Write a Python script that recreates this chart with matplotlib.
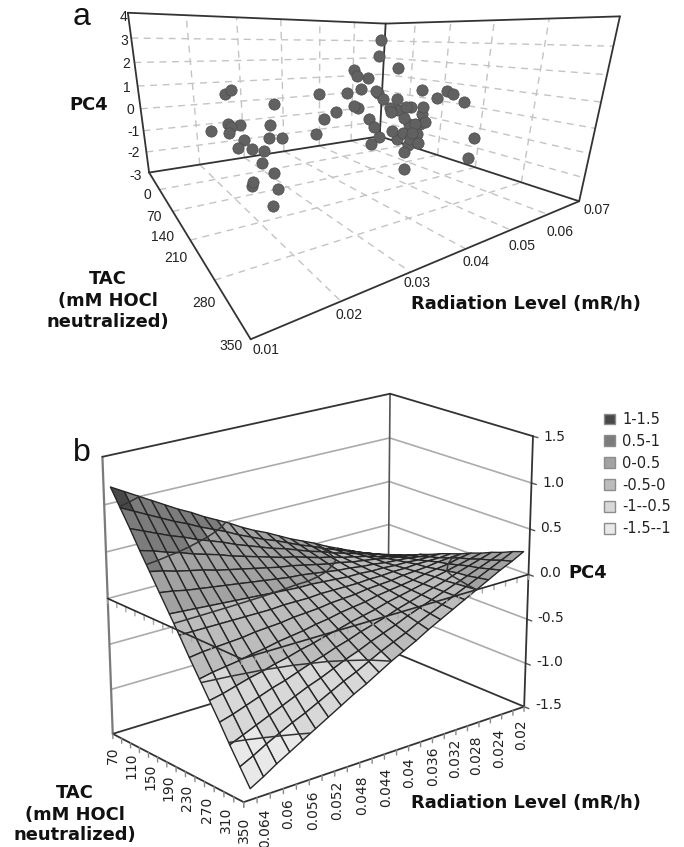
import numpy as np
import matplotlib
matplotlib.use("Agg")
import matplotlib.pyplot as plt
from matplotlib.colors import to_rgba
from matplotlib.patches import Patch

W, H = 684, 847

# panel a: scatter values
pt_tac = [5, 10, 45, 25, 55, 10, 70, 55, 85, 60, 50, 75, 45, 105, 155, 165, 135, 185,
          95, 75, 75, 100, 75, 95, 120, 70, 100, 85, 110, 110, 90, 125, 95, 115, 150, 95,
          135, 110, 140, 120, 115, 135, 105, 135, 160, 110, 140, 125, 155, 135, 135, 160, 130, 150,
          210, 120, 155, 145, 170, 155, 155, 180, 150, 175, 205, 165, 215, 190, 245, 230, 230, 280]
pt_rad = [.0681, .0671, .0689, .0573, .0551, .0637, .0242, .0238, .0418, .0518, .0569, .0582,
          .0628, .0685, .0682, .0684, .0687, .0687, .0579, .0649, .0325, .0494, .0534, .0603,
          .0572, .0664, .0644, .0684, .0686, .0684, .0458, .0393, .0542, .0619, .0486, .0220,
          .0205, .0234, .0270, .0682, .0673, .0623, .0652, .0172, .0188, .0389, .0549, .0603,
          .0586, .0632, .0520, .0254, .0300, .0217, .0682, .0593, .0583, .0487, .0583, .0577,
          .0204, .0211, .0250, .0538, .0680, .0237, .0222, .0518, .0172, .0179, .0217, .0174]
pt_pc4 = [3.05, 2.15, 1.48, 1.43, 1.21, .86, .91, .69, .57, .37, .44, .43,
          .13, .45, .63, .53, .18, .19, .10, -.13, .19, -.08, -.38, -.41,
          -.42, -.80, -.44, -.56, -.43, -.83, -.37, -.36, -.88, -.90, -.77, -.33,
          -.15, -.31, -.20, -1.24, -1.34, -1.10, -1.37, -.23, -.15, -1.14, -1.22, -1.60,
          -1.29, -1.66, -1.46, -.53, -.90, -.59, -1.42, -1.91, -1.63, -1.63, -1.69, -1.89,
          -.82, -.66, -1.14, -1.95, -2.48, -1.41, -1.21, -2.55, -.97, -1.31, -1.59, -1.28]
a_rad_ticks = [.01, .02, .03, .04, .05, .06, .07]
a_tac_ticks = [0, 70, 140, 210, 280, 350]
a_pc4_ticks = [-3, -2, -1, 0, 1, 2, 3, 4]

# panel b: fitted surface
surf_tac = [70, 90, 110, 130, 150, 170, 190, 210, 230, 250, 270, 290, 310, 330, 350]
surf_rad = [.065, .063, .061, .059, .057, .055, .053, .051, .049, .047, .045, .043,
            .041, .039, .037, .035, .033, .031, .029, .027, .025, .023, .021]
surf_pc4 = [
    [1.17, 1.09, 1.01, .93, .85, .77, .70, .62, .55, .48, .40, .33, .27, .20, .13, .07, .01, -.06, -.12, -.18, -.24, -.29, -.35],
    [.99, .92, .85, .78, .71, .65, .58, .52, .46, .39, .33, .27, .22, .16, .10, .05, -.01, -.06, -.11, -.16, -.21, -.26, -.31],
    [.81, .75, .69, .63, .58, .52, .47, .42, .36, .31, .26, .21, .17, .12, .07, .03, -.02, -.06, -.10, -.14, -.18, -.22, -.26],
    [.62, .58, .53, .49, .44, .40, .36, .31, .27, .23, .19, .15, .12, .08, .04, .01, -.03, -.06, -.09, -.13, -.16, -.19, -.22],
    [.44, .41, .37, .34, .31, .27, .24, .21, .18, .15, .12, .10, .07, .04, .01, -.01, -.04, -.06, -.08, -.11, -.13, -.15, -.17],
    [.26, .24, .21, .19, .17, .15, .13, .11, .09, .07, .05, .04, .02, .00, -.02, -.03, -.05, -.06, -.08, -.09, -.10, -.12, -.13],
    [.08, .07, .06, .05, .04, .03, .02, .01, -.00, -.01, -.02, -.02, -.03, -.04, -.05, -.05, -.06, -.06, -.07, -.07, -.08, -.08, -.08],
    [-.10, -.10, -.10, -.10, -.10, -.10, -.10, -.10, -.09, -.09, -.09, -.08, -.08, -.08, -.08, -.07, -.07, -.06, -.06, -.05, -.05, -.05, -.04],
    [-.29, -.27, -.26, -.25, -.24, -.22, -.21, -.20, -.18, -.17, -.16, -.14, -.13, -.12, -.10, -.09, -.08, -.06, -.05, -.04, -.02, -.01, .00],
    [-.47, -.44, -.42, -.40, -.37, -.35, -.32, -.30, -.28, -.25, -.23, -.20, -.18, -.16, -.13, -.11, -.09, -.07, -.04, -.02, .00, .03, .05],
    [-.65, -.62, -.58, -.54, -.51, -.47, -.44, -.40, -.37, -.33, -.30, -.26, -.23, -.20, -.16, -.13, -.10, -.07, -.03, .00, .03, .06, .09],
    [-.83, -.79, -.74, -.69, -.64, -.60, -.55, -.50, -.46, -.41, -.37, -.32, -.28, -.24, -.19, -.15, -.11, -.07, -.03, .02, .06, .10, .14],
    [-1.02, -.96, -.90, -.84, -.78, -.72, -.66, -.61, -.55, -.49, -.44, -.38, -.33, -.28, -.22, -.17, -.12, -.07, -.02, .03, .08, .13, .18],
    [-1.20, -1.13, -1.05, -.98, -.91, -.85, -.78, -.71, -.64, -.58, -.51, -.44, -.38, -.32, -.25, -.19, -.13, -.07, -.01, .05, .11, .17, .23],
    [-1.38, -1.30, -1.21, -1.13, -1.05, -.97, -.89, -.81, -.73, -.66, -.58, -.50, -.43, -.36, -.28, -.21, -.14, -.07, .00, .07, .14, .20, .27],
]
b_pc4_ticks = [-1.5, -1.0, -.5, 0.0, .5, 1.0, 1.5]
b_tac_ticks = [70, 110, 150, 190, 230, 270, 310, 350]
b_tac_minor = list(range(70, 351, 20))
b_rad_labels = ["0.064", "0.06", "0.056", "0.052", "0.048", "0.044", "0.04", "0.036", "0.032", "0.028", "0.024", "0.02"]
b_rad_minor = [.066, .064, .062, .06, .058, .056, .054, .052, .05, .048, .046, .044, .042, .04, .038, .036, .034, .032, .03, .028, .026, .024, .022, .02]
band_edges = [-1.5, -1, -.5, 0, .5, 1, 1.5]
band_colors = ["#e9e9e9", "#d8d8d8", "#bcbcbc", "#a2a2a2", "#7c7c7c", "#484848"]
band_names = ["-1.5--1", "-1--0.5", "-0.5-0", "0-0.5", "0.5-1", "1-1.5"]

fig = plt.figure(figsize=(W / 100, H / 100), dpi=100)


def lab(px, py, s, **kw):
    kw.setdefault("ha", "center")
    kw.setdefault("va", "center")
    fig.text(px / W, 1 - py / H, s, **kw)


def make_axes(view, lims):
    el, az, ro, lf, la, lb, l, t, sx, sy = view
    ax = fig.add_axes([l / W, 1 - (t + sy) / H, sx / W, sy / H], projection="3d")
    ax.apply_aspect = lambda position=None: None  # the figure's boxes are not square
    ax.set_autoscale_on(False)
    ax.set_xlim(*lims[0])
    ax.set_ylim(*lims[1])
    ax.set_zlim(*lims[2])
    ax.view_init(elev=el, azim=az, roll=ro)
    ax.set_proj_type("persp", focal_length=np.exp(lf))
    ax.set_box_aspect((np.exp(la), np.exp(lb), 1))
    ax.set_axis_off()
    ax.patch.set_alpha(0)
    ax.computed_zorder = False
    return ax


def seg(ax, p, q, **kw):
    ax.plot([p[0], q[0]], [p[1], q[1]], [p[2], q[2]], clip_on=False, solid_capstyle="round", **kw)


# ---- panel a
ax = make_axes((12.858, -124.868, -1.205, -1.910, .350, .280, 91.890, -74.766, 503.632, 371.034),
               ((.01, .07), (350, 0), (-3, 4)))
r0, r1, t0, t1, z0, z1 = .01, .07, 0, 350, -3, 4
grid = dict(color="#c4c4c4", lw=1.0, ls=(0, (5, 4)), zorder=1)
for r in a_rad_ticks[1:-1]:
    seg(ax, (r, t0, z0), (r, t0, z1), **grid)
    seg(ax, (r, t0, z0), (r, t1, z0), **grid)
for t in a_tac_ticks[1:-1]:
    seg(ax, (r1, t, z0), (r1, t, z1), **grid)
    seg(ax, (r0, t, z0), (r1, t, z0), **grid)
for z in a_pc4_ticks[1:-1]:
    seg(ax, (r0, t0, z), (r1, t0, z), **grid)
    seg(ax, (r1, t0, z), (r1, t1, z), **grid)
frame = dict(color="#333333", lw=1.3, zorder=2)
for p, q in [((r0, t0, z0), (r0, t0, z1)), ((r0, t0, z1), (r1, t0, z1)), ((r1, t0, z1), (r1, t1, z1)),
             ((r1, t0, z0), (r1, t0, z1)), ((r1, t1, z0), (r1, t1, z1)), ((r0, t0, z0), (r1, t0, z0)),
             ((r1, t0, z0), (r1, t1, z0)), ((r0, t0, z0), (r0, t1, z0)), ((r0, t1, z0), (r1, t1, z0))]:
    seg(ax, p, q, **frame)
ax.scatter(pt_rad, pt_tac, pt_pc4, s=66, c="#616161", edgecolors="#4d4d4d", linewidths=.5,
           depthshade=False, clip_on=False, zorder=5)

tick = dict(family="Liberation Sans", fontsize=10, color="#222222")
for s, (x, y) in zip(["-3", "-2", "-1", "0", "1", "2", "3", "4"],
                     [(136, 176), (134, 153), (134, 132), (130, 110), (127, 88), (126, 64), (124, 41), (123, 17)]):
    lab(x, y, s, **tick)
for s, (x, y) in zip(["0", "70", "140", "210", "280", "350"],
                     [(147, 195), (154, 217), (163, 237), (176, 258), (204, 303), (231, 346)]):
    lab(x, y, s, **tick)
for s, (x, y) in zip(["0.01", "0.02", "0.03", "0.04", "0.05", "0.06", "0.07"],
                     [(266, 350), (349, 315), (417, 283), (476, 262), (522, 246), (560, 232), (597, 210)]):
    lab(x, y, s, **tick)
bold = dict(family="DejaVu Sans", fontweight="bold", fontsize=12.9, color="#111111")
lab(89, 105, "PC4", **bold)
lab(108, 279, "TAC", **bold)
lab(108, 301, "(mM HOCl", **bold)
lab(108, 322, "neutralized)", **bold)
lab(526, 304, "Radiation Level (mR/h)", **bold)
lab(82, 17, "a", family="Liberation Sans", fontsize=23, color="#111111")

# ---- panel b
ax = make_axes((20.456, -129.689, .096, -.157, .184, -.357, 59.129, 350.102, 510.012, 485.550),
               ((.066, .02), (350, 70), (-1.5, 1.5)))
r0, r1, t0, t1, z0, z1 = .066, .02, 70, 350, -1.5, 1.5
for z in b_pc4_ticks[1:-1]:
    seg(ax, (r0, t0, z), (r1, t0, z), color="#ababab", lw=1.2, zorder=1)
    seg(ax, (r1, t0, z), (r1, t1, z), color="#ababab", lw=1.2, zorder=1)
for z in b_pc4_ticks:
    seg(ax, (r1, t1, z), (r1, t1 + 9, z), color="#555555", lw=1, zorder=1)
seg(ax, (r0, t0, z0), (r0, t0, z1), color="#7a7a7a", lw=1.6, zorder=2)
seg(ax, (r1, t0, z0), (r1, t0, z1), color="#555555", lw=1.2, zorder=2)
frame = dict(color="#333333", lw=1.3, zorder=2)
for p, q in [((r0, t0, z1), (r1, t0, z1)), ((r1, t0, z1), (r1, t1, z1)), ((r1, t1, z0), (r1, t1, z1)),
             ((r0, t0, z0), (r1, t0, z0)), ((r1, t0, z0), (r1, t1, z0)),
             ((r0, t0, z0), (r0, t1, z0)), ((r0, t1, z0), (r1, t1, z0))]:
    seg(ax, p, q, **frame)

R, T = np.meshgrid(surf_rad, surf_tac)
Z = np.array(surf_pc4)
cell = (Z[:-1, :-1] + Z[1:, :-1] + Z[:-1, 1:] + Z[1:, 1:]) / 4
idx = np.clip(np.digitize(cell, band_edges) - 1, 0, 5)
fc = np.ones(Z.shape + (4,))
fc[:-1, :-1] = np.array([to_rgba(c) for c in band_colors])[idx]
ax.plot_surface(R, T, Z, rstride=1, cstride=1, facecolors=fc, edgecolor="#262626", linewidth=1.0,
                shade=False, antialiased=True, zorder=3)
ax.contour(R, T, Z, levels=[-1, -.5, 0, .5, 1], colors="#333333", linewidths=1.1, linestyles="solid", zorder=4)

# z = 0 plane edges and tick hatches
seg(ax, (r0, t0, 0), (r0, t1, 0), color="#2a2a2a", lw=1.2, zorder=6)
seg(ax, (r0, t1, 0), (r1, t1, 0), color="#2a2a2a", lw=1.2, zorder=6)
for t in b_tac_minor:
    seg(ax, (r0, t, 0), (r0, t, -.055), color="#a8a8a8", lw=1, zorder=5)
    seg(ax, (r0, t, z0), (r0, t, z0 - .055), color="#8a8a8a", lw=1, zorder=2)
for r in b_rad_minor:
    seg(ax, (r, t1, 0), (r, t1, -.055), color="#a8a8a8", lw=1, zorder=5)
    seg(ax, (r, t1, z0), (r, t1, z0 - .055), color="#8a8a8a", lw=1, zorder=2)

tick = dict(family="DejaVu Sans", fontsize=10, color="#222222")
for s, (x, y) in zip(["1.5", "1.0", "0.5", "0.0", "-0.5", "-1.0", "-1.5"],
                     [(554, 437), (553, 483), (551, 528), (550, 573), (551, 618), (550, 662), (549, 705)]):
    lab(x, y, s, **tick)
for v, (x, y) in zip(b_tac_ticks, [(113, 755), (131, 766), (150, 777), (168, 788), (187, 798), (207, 810), (226, 820), (244, 830)]):
    lab(x, y, str(v), rotation=90, **tick)
for s, (x, y) in zip(b_rad_labels, [(265, 828), (288, 814), (313, 810), (337, 800), (362, 795), (386, 787),
                                    (409, 773), (433, 766), (455, 758), (476, 755), (499, 748), (521, 735)]):
    lab(x, y, s, rotation=90, **tick)
lab(588, 573, "PC4", **bold)
lab(75, 793, "TAC", **bold)
lab(75, 815, "(mM HOCl", **bold)
lab(75, 835, "neutralized)", **bold)
lab(526, 803, "Radiation Level (mR/h)", **bold)
lab(82, 453, "b", family="Liberation Sans", fontsize=23, color="#111111")

handles = [Patch(facecolor=c, edgecolor="#8c8c8c", label=n) for c, n in zip(band_colors[::-1], band_names[::-1])]
fig.legend(handles=handles, loc="upper left", bbox_to_anchor=(604 / W, 1 - 412 / H), frameon=False, borderpad=0,
           borderaxespad=0, handlelength=.75, handleheight=.75, handletextpad=.5, labelspacing=.47,
           prop=dict(family="DejaVu Sans", size=10.5), labelcolor="#222222")

fig.savefig("out.png", dpi=100)
